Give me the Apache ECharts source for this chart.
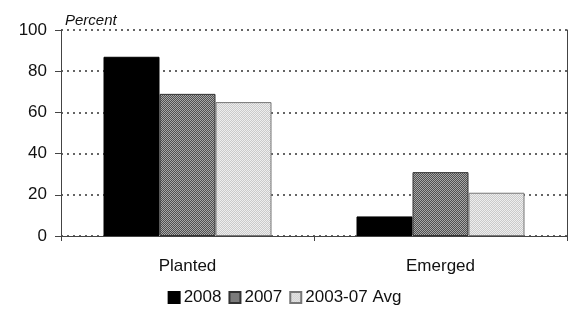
<!DOCTYPE html>
<html><head><meta charset="utf-8">
<script src="https://cdn.jsdelivr.net/npm/echarts@6/dist/echarts.min.js"></script>
<style>html,body{margin:0;padding:0;background:#fff}#c{width:569px;height:309px}</style>
</head><body><div id="c"></div>
<script>
const categories = ['Planted', 'Emerged'];
const seriesNames = ['2008', '2007', '2003-07 Avg'];
const values2008 = [87, 9.5];
const values2007 = [69, 31];
const valuesAvg = [65, 21];
const yTicks = [0, 20, 40, 60, 80, 100];

function pattern(a, b) {
  const c = document.createElement('canvas');
  c.width = 2; c.height = 2;
  const g = c.getContext('2d');
  g.fillStyle = a; g.fillRect(0, 0, 2, 2);
  g.fillStyle = b; g.fillRect(0, 0, 1, 1); g.fillRect(1, 1, 1, 1);
  return { image: c, repeat: 'repeat' };
}
const pat2007 = pattern('#505050', '#a8a8a8');
const patAvg = pattern('#cacaca', '#eeeeee');

const chart = echarts.init(document.getElementById('c'), null, { renderer: 'canvas' });
const font = 'Liberation Sans, Arial, sans-serif';
chart.setOption({
  animation: false,
  grid: { left: 61, right: 2, top: 30, bottom: 73, containLabel: false },
  legend: {
    bottom: -2, left: 'center', itemWidth: 11, itemHeight: 11, itemGap: 7,
    textStyle: { fontFamily: font, fontSize: 17, color: '#111', padding: [0, 0, 0, -1] },
    data: seriesNames.map(n => ({ name: n, icon: 'rect' }))
  },
  xAxis: {
    type: 'category', data: categories,
    axisLine: { lineStyle: { color: '#444', width: 1 } },
    axisTick: { show: true, length: 5, lineStyle: { color: '#444' } },
    axisLabel: { fontFamily: font, fontSize: 17, color: '#111', margin: 22 }
  },
  yAxis: [{
    type: 'value', min: 0, max: 100, interval: 20,
    axisLine: { show: true, lineStyle: { color: '#444' } },
    axisTick: { show: true, length: 6, lineStyle: { color: '#444' } },
    axisLabel: { fontFamily: font, fontSize: 17, color: '#111', margin: 14 },
    splitLine: { show: true, lineStyle: { color: '#333', type: [2, 4], width: 1.5 } },
    name: 'Percent', nameLocation: 'end', nameGap: 2,
    nameTextStyle: { fontFamily: font, fontSize: 15, fontStyle: 'italic', color: '#111', align: 'left', padding: [0, 0, 0, 4] }
  }, {
    type: 'value', min: 0, max: 100, interval: 20, position: 'right',
    axisLine: { show: true, lineStyle: { color: '#444' } },
    axisTick: { show: false }, axisLabel: { show: false }, splitLine: { show: false }
  }],
  series: [
    { name: seriesNames[0], type: 'bar', data: values2008, barWidth: 56, barGap: '0%',
      itemStyle: { color: '#000', borderColor: '#000', borderWidth: 1 } },
    { name: seriesNames[1], type: 'bar', data: values2007, barWidth: 56,
      itemStyle: { color: pat2007, borderColor: '#333', borderWidth: 1 } },
    { name: seriesNames[2], type: 'bar', data: valuesAvg, barWidth: 56,
      itemStyle: { color: patAvg, borderColor: '#777', borderWidth: 1 } }
  ]
});
</script></body></html>
